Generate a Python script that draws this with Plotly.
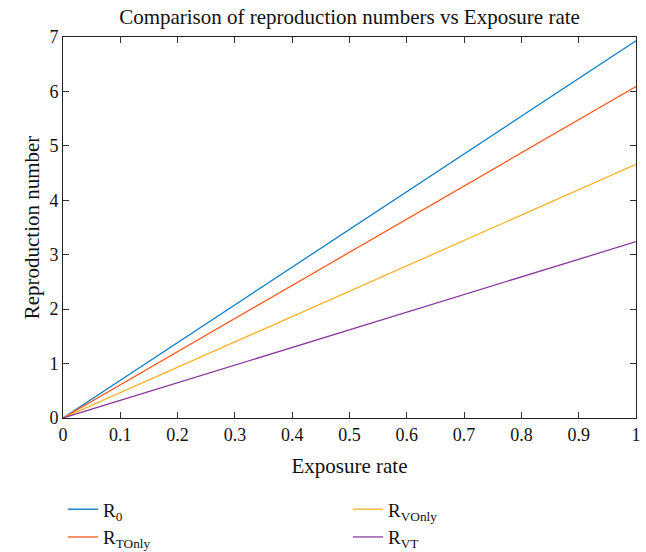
import plotly.graph_objects as go

exposure = [0, 1]
r0 = [0, 6.93]
r_tonly = [0, 6.09]
r_vonly = [0, 4.66]
r_vt = [0, 3.24]

x_ticks = [0, 0.1, 0.2, 0.3, 0.4, 0.5, 0.6, 0.7, 0.8, 0.9, 1]
x_tick_labels = ["0", "0.1", "0.2", "0.3", "0.4", "0.5", "0.6", "0.7", "0.8", "0.9", "1"]
y_ticks = [0, 1, 2, 3, 4, 5, 6, 7]

series = [
    ("R<sub>0</sub>", r0, "#0E7DC6", 1),
    ("R<sub>TOnly</sub>", r_tonly, "#FF5A1F", 3),
    ("R<sub>VOnly</sub>", r_vonly, "#FDB22A", 2),
    ("R<sub>VT</sub>", r_vt, "#8A3A9C", 4),
]

FONT = "Liberation Serif, Times New Roman, serif"

fig = go.Figure()
for name, ys, color, rank in series:
    fig.add_trace(go.Scatter(x=exposure, y=ys, mode="lines", name=name,
                             line=dict(color=color, width=1.3), legendrank=rank))

axis_common = dict(showline=True, linecolor="#222", linewidth=1, mirror="ticks",
                   ticks="inside", ticklen=6, tickcolor="#333", showgrid=False,
                   zeroline=False, automargin=False,
                   tickfont=dict(size=18, color="#111", family=FONT))

fig.update_layout(
    width=646, height=552,
    margin=dict(l=63, r=10, t=37, b=134, autoexpand=False),
    paper_bgcolor="white", plot_bgcolor="white",
    font=dict(family=FONT, color="#111"),
    title=dict(text="Comparison of reproduction numbers vs Exposure rate",
               x=0.5, xanchor="center", xref="paper", y=0.983, yanchor="top",
               font=dict(size=21, family=FONT, color="#111")),
    xaxis=dict(range=[0, 1], tickvals=x_ticks, ticktext=x_tick_labels,
               ticklabeloverflow="allow",
               title=dict(text="Exposure rate", font=dict(size=21, family=FONT), standoff=14),
               **axis_common),
    yaxis=dict(range=[0, 7], tickvals=y_ticks,
               title=dict(text="Reproduction number", font=dict(size=21, family=FONT), standoff=4),
               **axis_common),
    legend=dict(orientation="h", x=0.0, xanchor="left", y=-0.19, yanchor="top",
                entrywidth=240, entrywidthmode="pixels", tracegroupgap=0,
                font=dict(size=19, family=FONT, color="#111"), bgcolor="rgba(0,0,0,0)"),
    showlegend=True,
)

fig.write_html("out.html", config={"displayModeBar": False},
               post_script="document.body.style.margin='0';document.body.style.overflow='hidden';")
